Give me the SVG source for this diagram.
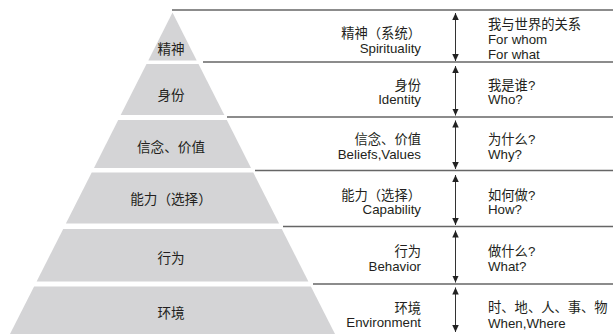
<svg xmlns="http://www.w3.org/2000/svg" width="613" height="334" viewBox="0 0 613 334">
<style>
.tier{fill:#d4d4d6;}
.t{font-family:"Liberation Sans","Noto Sans CJK SC",sans-serif;font-size:13.3px;fill:#231f20;}
.p{font-size:13.6px;}
.c{text-anchor:middle;}
.e{text-anchor:end;}
.sep{stroke:#666;stroke-width:1.3;fill:none;}
.arr{stroke:#333;stroke-width:1;fill:none;marker-start:url(#ah);marker-end:url(#ah);}
</style>
<defs>
<marker id="ah" markerUnits="userSpaceOnUse" markerWidth="8" markerHeight="7" refX="7" refY="3.25" orient="auto-start-reverse">
<path d="M0,0 L7,3.25 L0,6.5 z" fill="#222"/>
</marker>
</defs>
<rect width="613" height="334" fill="#fff"/>
<g id="tier-spirituality">
<polygon class="tier" points="172.5,12.5 196.7,60.5 148.3,60.5"/>
<text class="t p c" x="171" y="54">精神</text>
</g>
<g id="tier-identity">
<polygon class="tier" points="146.5,64 198.5,64 224.3,115 120.7,115"/>
<text class="t p c" x="171" y="100">身份</text>
</g>
<g id="tier-beliefs">
<polygon class="tier" points="118.2,120 226.8,120 251,168 94,168"/>
<text class="t p c" x="171" y="151.5">信念、价值</text>
</g>
<g id="tier-capability">
<polygon class="tier" points="91.7,172.5 253.3,172.5 279.1,223.5 65.9,223.5"/>
<text class="t p c" x="171" y="204">能力（选择）</text>
</g>
<g id="tier-behavior">
<polygon class="tier" points="63.2,229 281.8,229 308.4,281.5 36.6,281.5"/>
<text class="t p c" x="171" y="262.5">行为</text>
</g>
<g id="tier-environment">
<polygon class="tier" points="34.1,286.5 310.9,286.5 335,334 10,334"/>
<text class="t p c" x="171" y="318">环境</text>
</g>
<g id="separators">
<line class="sep" x1="172" y1="10" x2="613" y2="10"/>
<line class="sep" x1="203" y1="62" x2="613" y2="62"/>
<line class="sep" x1="227" y1="117" x2="613" y2="117"/>
<line class="sep" x1="255" y1="170.5" x2="613" y2="170.5"/>
<line class="sep" x1="283" y1="226.5" x2="613" y2="226.5"/>
<line class="sep" x1="313" y1="284" x2="613" y2="284"/>
</g>
<g id="connectors">
<line class="arr" x1="455.5" y1="13" x2="455.5" y2="61"/>
<line class="arr" x1="455.5" y1="66" x2="455.5" y2="115.5"/>
<line class="arr" x1="455.5" y1="120.5" x2="455.5" y2="169"/>
<line class="arr" x1="455.5" y1="175" x2="455.5" y2="225"/>
<line class="arr" x1="455.5" y1="230.5" x2="455.5" y2="282.5"/>
<line class="arr" x1="455.5" y1="287.5" x2="455.5" y2="332"/>
</g>
<g id="level-labels">
<text class="t e" x="421" y="37.5">精神（系统）</text>
<text class="t e" x="421" y="52.5">Spirituality</text>
<text class="t e" x="421" y="89.5">身份</text>
<text class="t e" x="421" y="104">Identity</text>
<text class="t e" x="421" y="143.5">信念、价值</text>
<text class="t e" x="421" y="158.5">Beliefs,Values</text>
<text class="t e" x="421" y="199.5">能力（选择）</text>
<text class="t e" x="421" y="214">Capability</text>
<text class="t e" x="421" y="256">行为</text>
<text class="t e" x="421" y="271">Behavior</text>
<text class="t e" x="421" y="312.5">环境</text>
<text class="t e" x="421" y="327">Environment</text>
</g>
<g id="questions">
<text class="t" x="488" y="29">我与世界的关系</text>
<text class="t" x="488" y="44">For whom</text>
<text class="t" x="488" y="59">For what</text>
<text class="t" x="488" y="89.5">我是谁?</text>
<text class="t" x="488" y="104">Who?</text>
<text class="t" x="488" y="143.5">为什么?</text>
<text class="t" x="488" y="158.5">Why?</text>
<text class="t" x="488" y="199.5">如何做?</text>
<text class="t" x="488" y="214">How?</text>
<text class="t" x="488" y="256">做什么?</text>
<text class="t" x="488" y="271">What?</text>
<text class="t" x="488" y="311.5">时、地、人、事、物</text>
<text class="t" x="488" y="327.5">When,Where</text>
</g>
</svg>
